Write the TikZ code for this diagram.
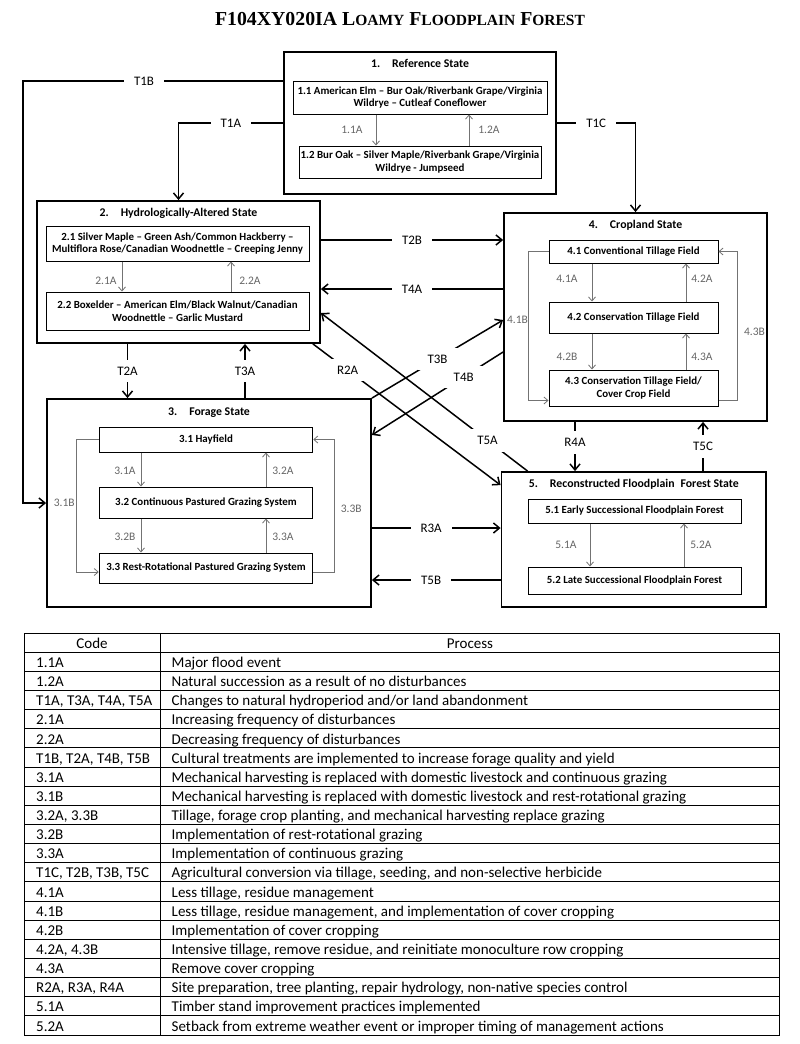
\documentclass[tikz,border=0pt]{standalone}
\usepackage{fontspec}
\setmainfont{Carlito}
\newfontfamily\titlefont{Liberation Serif}
\usetikzlibrary{arrows.meta,calc}
\newcommand\mysc[1]{{\fontsize{15.5}{18}\selectfont #1}}
\begin{document}
\begin{tikzpicture}[x=1pt,y=-1pt,
 statebox/.style={draw, line width=1.8pt, inner sep=0pt},
 subbox/.style={draw, line width=1pt, align=center, inner sep=0pt, font=\bfseries\fontsize{10.9}{12.5}\selectfont},
 stitle/.style={anchor=base, inner sep=0pt, font=\bfseries\fontsize{11.8}{14}\selectfont},
 inarrow/.style={draw=black!55, line width=0.8pt, -{Straight Barb[length=4pt,width=7pt]}},
 inlabel/.style={text=black!60, inner sep=1pt, font=\fontsize{11.5}{13}\selectfont},
 trans/.style={line width=1.5pt, -{Straight Barb[length=6pt,width=10pt]}},
 tlabel/.style={fill=white, inner xsep=10pt, inner ysep=7pt, font=\fontsize{13}{15}\selectfont},
 tline/.style={line width=0.9pt},
 cell/.style={anchor=base west, inner sep=0pt, font=\fontsize{15}{17}\selectfont},
]
\useasboundingbox (0,0) rectangle (800,1044);

% title
\node[anchor=base, inner sep=0pt] (title) at (400,25)
 {\titlefont\bfseries\fontsize{19.8}{22}\selectfont F104XY020IA L\mysc{OAMY} F\mysc{LOODPLAIN} F\mysc{OREST}};

% states
\node[statebox, minimum width=272pt, minimum height=142pt] (s1) at (420,123) {};
\node[statebox, minimum width=283pt, minimum height=142pt] (s2) at (178.5,272) {};
\node[statebox, minimum width=324pt, minimum height=208pt] (s3) at (209,503) {};
\node[statebox, minimum width=263pt, minimum height=208pt] (s4) at (635.5,317) {};
\node[statebox, minimum width=264.5pt, minimum height=135pt] (s5) at (633.75,539.5) {};

\node[stitle] (s1t) at ($(s1.north)+(0,16)$) {1.\hspace{12pt}Reference State};
\node[stitle] (s2t) at ($(s2.north)+(0,16)$) {2.\hspace{12pt}Hydrologically-Altered State};
\node[stitle] (s3t) at ($(s3.north)+(0,17)$) {3.\hspace{12pt}Forage State};
\node[stitle] (s4t) at ($(s4.north)+(0,16)$) {4.\hspace{12pt}Cropland State};
\node[stitle] (s5t) at ($(s5.north)+(0,16)$) {5.\hspace{12pt}Reconstructed Floodplain\hspace{6pt}Forest State};

% community phases
\node[subbox, minimum width=254pt, minimum height=33pt] (b11) at (420,97.5) {1.1 American Elm – Bur Oak/Riverbank Grape/Virginia\\Wildrye – Cutleaf Coneflower};
\node[subbox, minimum width=242pt, minimum height=32pt] (b12) at (420,162) {1.2 Bur Oak – Silver Maple/Riverbank Grape/Virginia\\Wildrye - Jumpseed};
\node[subbox, minimum width=263pt, minimum height=35pt] (b21) at (177.5,243.5) {2.1 Silver Maple – Green Ash/Common Hackberry –\\Multiflora Rose/Canadian Woodnettle – Creeping Jenny};
\node[subbox, minimum width=263pt, minimum height=38pt] (b22) at (177.5,311) {2.2 Boxelder – American Elm/Black Walnut/Canadian\\Woodnettle – Garlic Mustard};
\node[subbox, minimum width=213.5pt, minimum height=25pt] (b31) at (206,439.5) {3.1 Hayfield};
\node[subbox, minimum width=213.5pt, minimum height=31pt] (b32) at (206,502.5) {3.2 Continuous Pastured Grazing System};
\node[subbox, minimum width=213.5pt, minimum height=30pt] (b33) at (206,568) {3.3 Rest-Rotational Pastured Grazing System};
\node[subbox, minimum width=169pt, minimum height=23pt] (b41) at (633.5,251.5) {4.1 Conventional Tillage Field};
\node[subbox, minimum width=169pt, minimum height=31pt] (b42) at (633.5,317.5) {4.2 Conservation Tillage Field};
\node[subbox, minimum width=169pt, minimum height=36pt] (b43) at (633.5,388) {4.3 Conservation Tillage Field/\\Cover Crop Field};
\node[subbox, minimum width=213pt, minimum height=24pt] (b51) at (634.5,511) {5.1 Early Successional Floodplain Forest};
\node[subbox, minimum width=213pt, minimum height=27pt] (b52) at (634.5,580.5) {5.2 Late Successional Floodplain Forest};

% community pathways
\draw[inarrow] ([xshift=-44pt]b11.south) -- node[inlabel,xshift=-24pt]{1.1A} ([xshift=-44pt]b12.north);
\draw[inarrow] ([xshift=49pt]b12.north) -- node[inlabel,xshift=20pt]{1.2A} ([xshift=49pt]b11.south);
\draw[inarrow] ([xshift=-55.5pt]b21.south) -- node[inlabel,xshift=-16pt,yshift=-4.5pt]{2.1A} ([xshift=-55.5pt]b22.north);
\draw[inarrow] ([xshift=53.5pt]b22.north) -- node[inlabel,xshift=19pt,yshift=-4.5pt]{2.2A} ([xshift=53.5pt]b21.south);
\draw[inarrow] ([xshift=-65pt]b31.south) -- node[inlabel,xshift=-16pt,yshift=-1.5pt]{3.1A} ([xshift=-65pt]b32.north);
\draw[inarrow] ([xshift=60pt]b32.north) -- node[inlabel,xshift=17pt,yshift=-1.5pt]{3.2A} ([xshift=60pt]b31.south);
\draw[inarrow] ([xshift=-65pt]b32.south) -- node[inlabel,xshift=-16pt,yshift=-1.5pt]{3.2B} ([xshift=-65pt]b33.north);
\draw[inarrow] ([xshift=60pt]b33.north) -- node[inlabel,xshift=17pt,yshift=-1.5pt]{3.3A} ([xshift=60pt]b32.south);
\draw[inarrow] ([xshift=-41.5pt]b41.south) -- node[inlabel,xshift=-25pt,yshift=3.5pt]{4.1A} ([xshift=-41.5pt]b42.north);
\draw[inarrow] ([xshift=52.5pt]b42.north) -- node[inlabel,xshift=16pt,yshift=3.5pt]{4.2A} ([xshift=52.5pt]b41.south);
\draw[inarrow] ([xshift=-41.5pt]b42.south) -- node[inlabel,xshift=-25pt,yshift=-5.5pt]{4.2B} ([xshift=-41.5pt]b43.north);
\draw[inarrow] ([xshift=52.5pt]b43.north) -- node[inlabel,xshift=16pt,yshift=-5.5pt]{4.3A} ([xshift=52.5pt]b42.south);
\draw[inarrow] ([xshift=-44.5pt]b51.south) -- node[inlabel,xshift=-24pt]{5.1A} ([xshift=-44.5pt]b52.north);
\draw[inarrow] ([xshift=49.5pt]b52.north) -- node[inlabel,xshift=17pt]{5.2A} ([xshift=49.5pt]b51.south);
\draw[inarrow] (b31.west) -- ++(-22,0) |- node[inlabel,pos=0.25,xshift=-12.5pt,yshift=3pt]{3.1B} ([yshift=-4pt]b33.west);
\draw[inarrow] ([yshift=-4pt]b33.east) -- ++(21,0) |- node[inlabel,pos=0.25,xshift=17pt,yshift=-3pt]{3.3B} (b31.east);
\draw[inarrow] (b41.west) -- ++(-20,0) |- node[inlabel,pos=0.25,xshift=-11pt,yshift=6pt]{4.1B} ([yshift=6pt]b43.south west);
\draw[inarrow] ([yshift=6pt]b43.south east) -- ++(19,0) |- node[inlabel,pos=0.25,xshift=17pt,yshift=-6pt]{4.3B} (b41.east);

% transitions
\draw[trans] ($(s1.west)+(0,-42)$) -- node[tlabel,pos=0.535]{T1B} ++(-260,0) |- (s3.west);
\draw[trans] (s1.west) -| node[tlabel,pos=0.25]{T1A} (s2.north);
\draw[trans] (s1.east) -| node[tlabel,pos=0.25]{T1C} (s4.north);
\coordinate (t2b) at ($(s2.east)+(0,-32)$);
\draw[trans] (t2b) -- node[tlabel]{T2B} (t2b -| s4.west);
\coordinate (t4a) at ($(s2.east)+(0,17)$);
\draw[trans] (t4a -| s4.west) -- node[tlabel]{T4A} (t4a);
\coordinate (t2a) at ($(s2.south)+(-51,0)$);
\draw[trans] (t2a) -- node[tlabel]{T2A} (t2a |- s3.north);
\coordinate (t3a) at ($(s2.south)+(66.5,0)$);
\draw[trans] (t3a |- s3.north) -- node[tlabel]{T3A} (t3a);
\coordinate (r4a) at ($(s4.south)+(-60.5,0)$);
\draw[trans] (r4a) -- node[tlabel,pos=0.42]{R4A} (r4a |- s5.north);
\coordinate (t5c) at ($(s4.south)+(67.5,0)$);
\draw[trans] (t5c |- s5.north) -- node[tlabel]{T5C} (t5c);
\coordinate (r3a) at ($(s3.east)+(0,25)$);
\draw[trans] (r3a) -- node[tlabel,pos=0.46]{R3A} (r3a -| s5.west);
\coordinate (t5b) at ($(s3.east)+(0,77)$);
\draw[trans] (t5b -| s5.west) -- node[tlabel,pos=0.54]{T5B} (t5b);
\draw[trans] ($(s2.south east)+(-8,0)$) -- node[tlabel,pos=0.185]{R2A} ($(s5.north west)+(0,14)$);
\draw[trans] ($(s5.north west)+(27,0)$) -- node[tlabel,pos=0.194]{T5A} ($(s2.east)+(0,41)$);
\draw[trans] (s3.north east) -- node[tlabel]{T3B} ($(s4.west)+(0,3)$);
\draw[trans] ($(s4.west)+(0,35)$) -- node[tlabel,pos=0.3]{T4B} ($(s3.east)+(0,-68)$);

% table
\draw[tline] (24,633) rectangle (779,1035);
\draw[tline] (160,633) -- (160,1035);
\foreach \i in {1,...,20} \draw[tline] (24,{633+\i*19.14}) -- (779,{633+\i*19.14});
\node[cell, anchor=base] (hcode) at (92,648.3) {Code};
\node[cell, anchor=base] (hproc) at (470,648.3) {Process};
\foreach \c/\p [count=\i] in {
 {1.1A}/{Major flood event},
 {1.2A}/{Natural succession as a result of no disturbances},
 {T1A, T3A, T4A, T5A}/{Changes to natural hydroperiod and/or land abandonment},
 {2.1A}/{Increasing frequency of disturbances},
 {2.2A}/{Decreasing frequency of disturbances},
 {T1B, T2A, T4B, T5B}/{Cultural treatments are implemented to increase forage quality and yield},
 {3.1A}/{Mechanical harvesting is replaced with domestic livestock and continuous grazing},
 {3.1B}/{Mechanical harvesting is replaced with domestic livestock and rest-rotational grazing},
 {3.2A, 3.3B}/{Tillage, forage crop planting, and mechanical harvesting replace grazing},
 {3.2B}/{Implementation of rest-rotational grazing},
 {3.3A}/{Implementation of continuous grazing},
 {T1C, T2B, T3B, T5C}/{Agricultural conversion via tillage, seeding, and non-selective herbicide},
 {4.1A}/{Less tillage, residue management},
 {4.1B}/{Less tillage, residue management, and implementation of cover cropping},
 {4.2B}/{Implementation of cover cropping},
 {4.2A, 4.3B}/{Intensive tillage, remove residue, and reinitiate monoculture row cropping},
 {4.3A}/{Remove cover cropping},
 {R2A, R3A, R4A}/{Site preparation, tree planting, repair hydrology, non-native species control},
 {5.1A}/{Timber stand improvement practices implemented},
 {5.2A}/{Setback from extreme weather event or improper timing of management actions}}
{
 \node[cell] (code\i) at (36,{633+\i*19.14+15.3}) {\c};
 \node[cell] (proc\i) at (171.5,{633+\i*19.14+15.3}) {\p};
}
\end{tikzpicture}
\end{document}
